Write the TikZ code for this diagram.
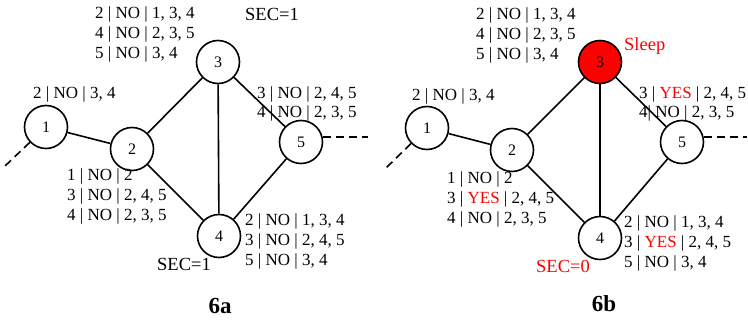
\documentclass[tikz,border=0pt]{standalone}
\usepackage{fontspec}
\setmainfont{Liberation Serif}
\begin{document}
\begin{tikzpicture}[x=1pt,y=-1pt,
  vtx/.style={circle,draw,line width=1.6pt,minimum size=43pt,inner sep=0pt,font=\fontsize{16}{16}\selectfont},
  sleepvtx/.style={vtx,fill=red},
  edge/.style={line width=1.6pt},
  dedge/.style={line width=1.6pt,dash pattern=on 8pt off 5pt},
  tbl/.style={anchor=base west,inner sep=0pt,align=left,font=\fontsize{17}{20}\selectfont},
  sec/.style={anchor=base west,inner sep=0pt,font=\fontsize{18.5}{18}\selectfont},
  figcap/.style={anchor=base,inner sep=0pt,font=\fontsize{23}{23}\selectfont\bfseries}]
\useasboundingbox (0,0) rectangle (748,320);
% ---------- 6a ----------
\node[vtx] (a1) at (46,127) {1};
\node[vtx] (a2) at (132,149) {2};
\node[vtx] (a3) at (218,62) {3};
\node[vtx] (a4) at (219,236) {4};
\node[vtx] (a5) at (301,142) {5};
\coordinate (a1d) at (5,166);
\coordinate (a5d) at (368,137);
\draw[edge] (a1) -- (a2);
\draw[edge] (a2) -- (a3);
\draw[edge] (a2) -- (a4);
\draw[edge] (a3) -- (a4);
\draw[edge] (a3) -- (a5);
\draw[edge] (a4) -- (a5);
\draw[dedge] (a1) -- (a1d);
\draw[dedge] (a5.east |- a5d) -- (a5d);
\node[tbl] (ta3) at (95,59) {2 | NO | 1, 3, 4\\4 | NO | 2, 3, 5\\5 | NO | 3, 4};
\node[sec] (sa3) at (245,21) {SEC=1};
\node[tbl] (ta1) at (33,99) {2 | NO | 3, 4};
\node[tbl,font=\fontsize{17}{19}\selectfont] (ta5) at (257,118) {3 | NO | 2, 4, 5\\4 | NO | 2, 3, 5};
\node[tbl] (ta2) at (67,221) {1 | NO | 2\\3 | NO | 2, 4, 5\\4 | NO | 2, 3, 5};
\node[tbl] (ta4) at (245,266) {2 | NO | 1, 3, 4\\3 | NO | 2, 4, 5\\5 | NO | 3, 4};
\node[sec] (sa4) at (157,271) {SEC=1};
\node[figcap] (capa) at (220,314) {6a};
% ---------- 6b ----------
\node[vtx] (b1) at (427,128) {1};
\node[vtx] (b2) at (512,150) {2};
\node[sleepvtx] (b3) at (600,62) {3};
\node[vtx] (b4) at (600,238) {4};
\node[vtx] (b5) at (682,142) {5};
\coordinate (b1d) at (386,168);
\coordinate (b5d) at (747,137);
\draw[edge] (b1) -- (b2);
\draw[edge] (b2) -- (b3);
\draw[edge] (b2) -- (b4);
\draw[edge] (b3) -- (b4);
\draw[edge] (b3) -- (b5);
\draw[edge] (b4) -- (b5);
\draw[dedge] (b1) -- (b1d);
\draw[dedge] (b5.east |- b5d) -- (b5d);
\node[tbl] (tb3) at (476,60) {2 | NO | 1, 3, 4\\4 | NO | 2, 3, 5\\5 | NO | 3, 4};
\node[sec,text=red] (sb3) at (624,51) {Sleep};
\node[tbl] (tb1) at (412,101) {2 | NO | 3, 4};
\node[tbl,font=\fontsize{17}{19}\selectfont] (tb5) at (639,118) {3 | \textcolor{red}{YES} | 2, 4, 5\\4| NO | 2, 3, 5};
\node[tbl] (tb2) at (447,224) {1 | NO | 2\\3 | \textcolor{red}{YES} | 2, 4, 5\\4 | NO | 2, 3, 5};
\node[tbl] (tb4) at (624,268) {2 | NO | 1, 3, 4\\3 | \textcolor{red}{YES} | 2, 4, 5\\5 | NO | 3, 4};
\node[sec,text=red] (sb4) at (536,273) {SEC=0};
\node[figcap] (capb) at (604,312) {6b};
\end{tikzpicture}
\end{document}
